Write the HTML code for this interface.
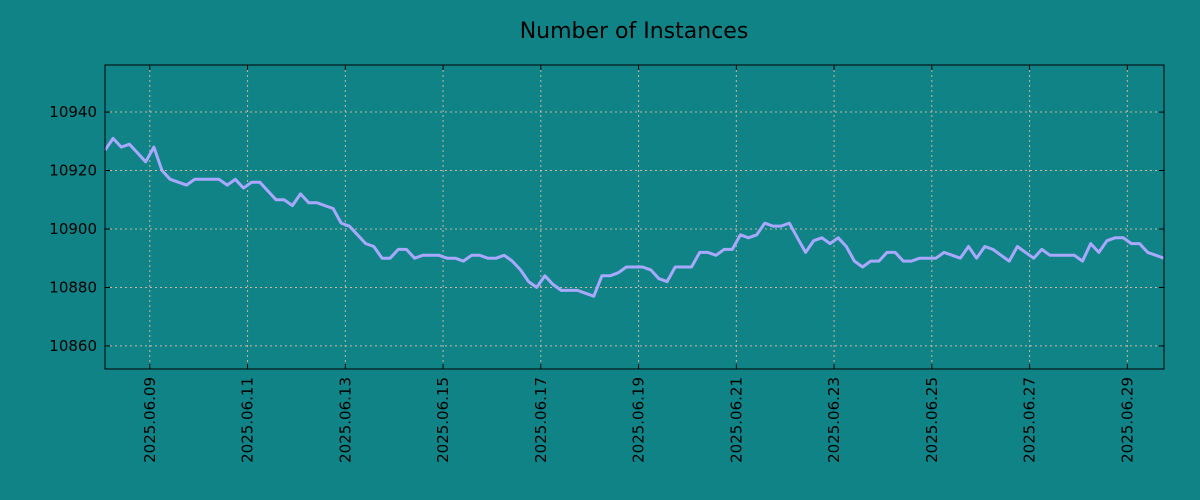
<!DOCTYPE html>
<html><head><meta charset="utf-8"><style>
body{margin:0;background:#108387;}
svg{display:block;font-family:"DejaVu Sans","Liberation Sans",sans-serif;}
</style></head><body>
<svg id="chart" width="1200" height="500">
<rect width="1200" height="500" fill="#108387"/>
<text x="634" y="38" text-anchor="middle" font-size="22" fill="#000">Number of Instances</text>
<g id="grid"></g><g id="axes"></g><g id="series"></g>
<rect x="105" y="65" width="1059" height="304" fill="none" stroke="#000" stroke-width="1"/>
</svg>
<script>
const values = [10927,10931,10928,10929,10926,10923,10928,10920,10917,10916,10915,10917,10917,10917,10917,10915,10917,10914,10916,10916,10913,10910,10910,10908,10912,10909,10909,10908,10907,10902,10901,10898,10895,10894,10890,10890,10893,10893,10890,10891,10891,10891,10890,10890,10889,10891,10891,10890,10890,10891,10889,10886,10882,10880,10884,10881,10879,10879,10879,10878,10877,10884,10884,10885,10887,10887,10887,10886,10883,10882,10887,10887,10887,10892,10892,10891,10893,10893,10898,10897,10898,10902,10901,10901,10902,10897,10892,10896,10897,10895,10897,10894,10889,10887,10889,10889,10892,10892,10889,10889,10890,10890,10890,10892,10891,10890,10894,10890,10894,10893,10891,10889,10894,10892,10890,10893,10891,10891,10891,10891,10889,10895,10892,10896,10897,10897,10895,10895,10892,10891,10890];
const startHour = -22; // hours relative to 2025-06-09 00:00
const stepHours = 4;
const yTicks = [10860,10880,10900,10920,10940];
const xTickLabels = ["2025.06.09","2025.06.11","2025.06.13","2025.06.15","2025.06.17","2025.06.19","2025.06.21","2025.06.23","2025.06.25","2025.06.27","2025.06.29"];
const xTickDays = [0,2,4,6,8,10,12,14,16,18,20];

const L=105,R=1164,T=65,B=369;
const yMin=10852.1,yMax=10956.1;
const xMinH=-22,xMaxH=-22+130*4;
const X=h=>L+(h-xMinH)/(xMaxH-xMinH)*(R-L);
const Y=v=>B-(v-yMin)/(yMax-yMin)*(B-T);
const NS="http://www.w3.org/2000/svg";
const grid=document.getElementById('grid'),axes=document.getElementById('axes'),series=document.getElementById('series');
function mk(tag,attrs,parent){const e=document.createElementNS(NS,tag);for(const k in attrs)e.setAttribute(k,attrs[k]);parent.appendChild(e);return e;}
yTicks.forEach(v=>{
  const y=Y(v);
  const g=mk('line',{x1:L,x2:R,y1:y,y2:y,stroke:'#c8b8a8','stroke-dasharray':'2,3','stroke-width':1},grid);
  
  
  mk('line',{x1:L,x2:L+5,y1:y,y2:y,stroke:'#000'},axes);
  mk('line',{x1:R-5,x2:R,y1:y,y2:y,stroke:'#000'},axes);
  const t=mk('text',{x:L-8,y:y+5,'text-anchor':'end','font-size':15,fill:'#000'},axes);
  t.textContent=v;
  
  
});
xTickDays.forEach((d,i)=>{
  const x=X(d*24);
  const g=mk('line',{x1:x,x2:x,y1:T,y2:B,stroke:'#c8b8a8','stroke-dasharray':'2,3','stroke-width':1},grid);
  
  
  mk('line',{x1:x,x2:x,y1:B-5,y2:B,stroke:'#000'},axes);
  mk('line',{x1:x,x2:x,y1:T,y2:T+5,stroke:'#000'},axes);
  const t=mk('text',{x:0,y:0,'text-anchor':'end','font-size':15,fill:'#000',transform:`translate(${x+5},${B+8}) rotate(-90)`},axes);
  t.textContent=xTickLabels[i];
  
  
});
const pts=values.map((v,i)=>X(startHour+i*stepHours).toFixed(1)+','+Y(v).toFixed(1)).join(' ');
const line=mk('polyline',{points:pts,fill:'none',stroke:'#a8a8ff','stroke-width':3,'stroke-linejoin':'round'},series);


</script>
</body></html>
